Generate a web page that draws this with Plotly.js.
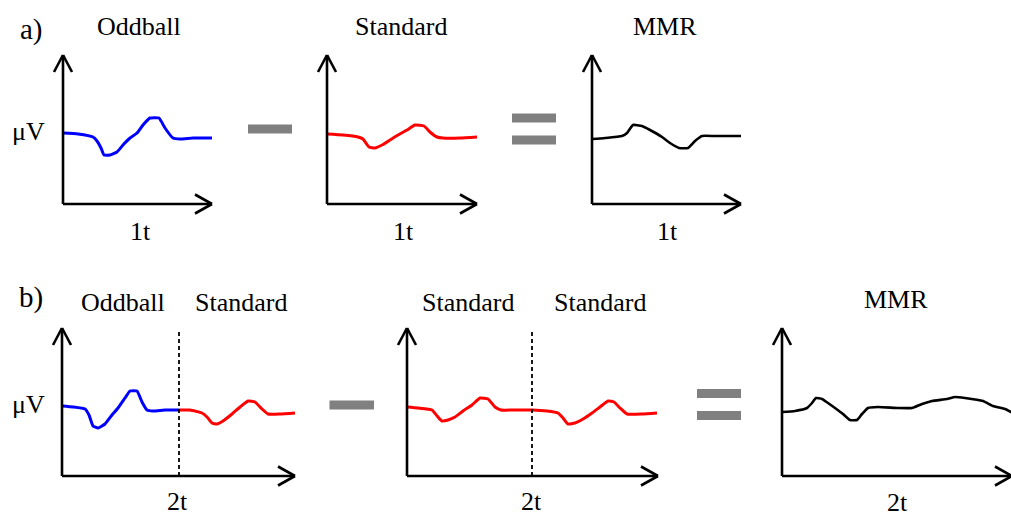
<!DOCTYPE html>
<html>
<head>
<meta charset="utf-8">
<script src="https://cdn.plot.ly/plotly-3.0.1.min.js"></script>
<style>html,body{margin:0;padding:0;background:#fff;}#chart{width:1011px;height:516px;}</style>
</head>
<body>
<div id="chart"></div>
<script>
// ---------- data (time in arbitrary units, amplitude in arbitrary µV units) ----------
// a) Oddball
const aOddT = [0,15,30,34,38,41,47,54,60,67,74,80,87,96,102,110,117,130,149];
const aOddV = [71,70,67,63,56,49,49,52,59,66,71,79,86,86,76,66,65,66,66];
// a) Standard
const aStdT = [0,16,31,36,42,48,55,63,71,80,88,97,103,110,116,133,150];
const aStdV = [70,69,67,65,57,56,59,64,69,74,79,78,72,67,66,66,67];
// a) MMR
const aMmrT = [0,13,30,35,41,50,58,70,78,87,96,103,110,123,149];
const aMmrV = [65,66,68,71,79,78,74,67,61,56,56,63,68,68,68];
// b) Oddball | Standard
const bOddT = [0,11,23,27,31,36,43,50,56,63,68,75,80,85,91,103,117];
const bOddV = [70,69,67,61,50,48,52,61,68,78,85,85,74,66,65,66,66];
const bStd1T = [117,128,140,145,150,155,161,170,178,186,193,200,206,218,233];
const bStd1V = [66,66,63,59,53,52,55,62,69,75,74,67,62,62,63];
// b) Standard | Standard
const bStd2T = [0,11,25,31,35,41,48,56,65,73,81,88,94,108,125,140,151,156,161,168,176,185,193,201,207,213,220,235,250];
const bStd2V = [69,68,66,59,55,56,59,65,71,78,77,69,66,66,66,65,63,58,52,53,57,63,69,75,74,68,62,62,63];
// b) MMR
const bMmrT = [0,13,25,30,34,40,46,53,61,68,75,80,86,96,116,130,140,150,165,173,183,201,211,223,231];
const bMmrV = [64,65,68,73,78,77,73,68,62,56,56,62,68,69,68,68,72,75,77,79,78,75,70,67,63];
// boundary between the two stimuli (time units)
const boundaries = {b1: 117, b2: 125};

// text labels
const panelTitlesA = ['Oddball','Standard','MMR'];
const panelTitlesB = ['Oddball','Standard','Standard','Standard','MMR'];
const yLabel = 'μV';
const xLabelA = '1t';
const xLabelB = '2t';

// ---------- geometry (pixels) ----------
const PW = 1011, PH = 516, PAD = 12;
const panels = [
  {ox:63,  oy:204, w:149, h:149},   // a1
  {ox:327, oy:204, w:150, h:149},   // a2
  {ox:592, oy:204, w:149, h:149},   // a3
  {ox:62,  oy:476, w:233, h:148},   // b1
  {ox:407, oy:476, w:251, h:148},   // b2
  {ox:782, oy:476, w:230, h:148}    // b3
];

const layout = {
  width: PW, height: PH,
  margin: {l:0, r:0, t:0, b:0},
  paper_bgcolor: '#fff', plot_bgcolor: 'rgba(0,0,0,0)',
  showlegend: false,
  shapes: [], annotations: []
};

panels.forEach((p, i) => {
  const n = i === 0 ? '' : String(i + 1);
  const left = p.ox - PAD;
  const right = Math.min(p.ox + p.w + PAD, PW);
  const top = p.oy - p.h - PAD;
  const bottom = p.oy + PAD;
  const ax = {visible:false, showgrid:false, zeroline:false, fixedrange:true};
  layout['xaxis' + n] = Object.assign({}, ax, {
    domain: [left / PW, right / PW], range: [left - p.ox, right - p.ox], anchor: 'y' + n
  });
  layout['yaxis' + n] = Object.assign({}, ax, {
    domain: [1 - bottom / PH, 1 - top / PH], range: [p.oy - bottom, p.oy - top], anchor: 'x' + n
  });
  // axis arrows (paper pixel coords, not clipped)
  const X = v => (p.ox + v) / PW;
  const Y = v => 1 - (p.oy - v) / PH;
  const lineStyle = {color:'#000', width:2.6};
  const seg = (x0,y0,x1,y1) => ({type:'line', xref:'paper', yref:'paper',
    x0:X(x0), y0:Y(y0), x1:X(x1), y1:Y(y1), line:lineStyle, layer:'above'});
  layout.shapes.push(seg(0,0,0,p.h), seg(0,0,p.w,0));
  layout.shapes.push(seg(-9,p.h-17,0,p.h), seg(9,p.h-17,0,p.h));
  layout.shapes.push(seg(p.w-17,9.5,p.w,0), seg(p.w-17,-9.5,p.w,0));
});

// dashed boundaries
[['x4','y4',boundaries.b1],['x5','y5',boundaries.b2]].forEach(([xr,yr,bx]) => {
  layout.shapes.push({type:'line', xref:xr, yref:yr, x0:bx, x1:bx, y0:0, y1:144,
    line:{color:'#000', width:1.8, dash:'4px,3px'}, layer:'above'});
});

// grey minus / equals signs (paper pixel coords)
const rect = (x0,y0,x1,y1) => ({type:'rect', xref:'paper', yref:'paper',
  x0:x0/PW, x1:x1/PW, y0:1-y1/PH, y1:1-y0/PH, fillcolor:'#808080', line:{width:0}});
layout.shapes.push(rect(248,124.5,292,133.5));
layout.shapes.push(rect(512,113.5,556,122.5), rect(512,135.5,556,144.5));
layout.shapes.push(rect(329.5,400.5,374,409.5));
layout.shapes.push(rect(697,389,741,398), rect(697,411,741,420));

// text
const FAM = '"Liberation Serif","Times New Roman",serif';
const FONT = {family:FAM, size:26, color:'#000'};
const BIG = {family:FAM, size:29, color:'#000'};
const txt = (s,x,y,f) => ({text:s, xref:'paper', yref:'paper', x:x/PW, y:1-y/PH,
  xanchor:'center', yanchor:'middle', showarrow:false, font:f || FONT});
layout.annotations.push(
  txt('a)',31,30,BIG), txt(panelTitlesA[0],139,27), txt(panelTitlesA[1],401,27), txt(panelTitlesA[2],665,27),
  txt(yLabel,28,131), txt(xLabelA,140,231), txt(xLabelA,403,231), txt(xLabelA,667,231),
  txt('b)',31,297,BIG), txt(panelTitlesB[0],123,302), txt(panelTitlesB[1],241,302),
  txt(panelTitlesB[2],468,302), txt(panelTitlesB[3],600,302), txt(panelTitlesB[4],896,299),
  txt(yLabel,28,404), txt(xLabelB,177,501), txt(xLabelB,531,501), txt(xLabelB,897,502)
);

const tr = (t,v,c,n) => ({x:t, y:v, mode:'lines', type:'scatter', xaxis:'x'+n, yaxis:'y'+n,
  line:{color:c, width:3, shape:'spline', smoothing:0.4}, hoverinfo:'skip'});
const data = [
  tr(aOddT,aOddV,'#0000ff',''),
  tr(aStdT,aStdV,'#ff0000','2'),
  tr(aMmrT,aMmrV,'#000000','3'),
  tr(bOddT,bOddV,'#0000ff','4'),
  tr(bStd1T,bStd1V,'#ff0000','4'),
  tr(bStd2T,bStd2V,'#ff0000','5'),
  tr(bMmrT,bMmrV,'#000000','6')
];
data[6].line.width = 2.6;
data[2].line.width = 2.6;

Plotly.newPlot('chart', data, layout, {staticPlot:true, displayModeBar:false});
</script>
</body>
</html>
